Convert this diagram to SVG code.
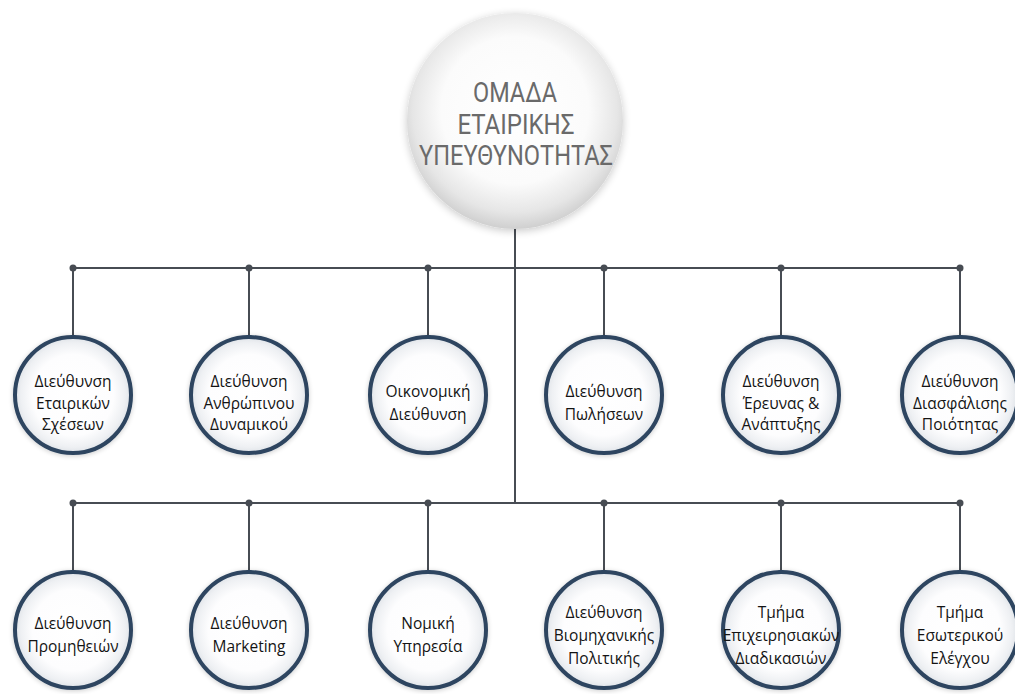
<svg xmlns="http://www.w3.org/2000/svg" width="1015" height="694" viewBox="0 0 1015 694">
  <defs>
    <radialGradient id="topFill" cx="50%" cy="45%" r="55%">
      <stop offset="0" stop-color="#ffffff"/>
      <stop offset="0.62" stop-color="#fbfbfb"/>
      <stop offset="0.86" stop-color="#e6e6e6"/>
      <stop offset="1" stop-color="#cfcfcf"/>
    </radialGradient>
    <radialGradient id="unitFill" cx="50%" cy="50%" r="50%">
      <stop offset="0" stop-color="#ffffff"/>
      <stop offset="0.7" stop-color="#fdfdfe"/>
      <stop offset="0.9" stop-color="#eef0f3"/>
      <stop offset="1" stop-color="#dfe3e8"/>
    </radialGradient>
    <filter id="softShadow" x="-20%" y="-20%" width="140%" height="140%">
      <feGaussianBlur in="SourceAlpha" stdDeviation="4"/>
      <feOffset dy="2"/>
      <feComponentTransfer><feFuncA type="linear" slope="0.22"/></feComponentTransfer>
      <feMerge><feMergeNode/><feMergeNode in="SourceGraphic"/></feMerge>
    </filter>
    <filter id="unitShadow" x="-20%" y="-20%" width="140%" height="140%">
      <feGaussianBlur in="SourceAlpha" stdDeviation="2.5"/>
      <feOffset dy="1"/>
      <feComponentTransfer><feFuncA type="linear" slope="0.2"/></feComponentTransfer>
      <feMerge><feMergeNode/><feMergeNode in="SourceGraphic"/></feMerge>
    </filter>
  </defs>
  <style>
    .wire { stroke: #474c53; stroke-width: 2; fill: none; }
    .dot { fill: #474c53; }
    .unit { fill: url(#unitFill); stroke: #2d4560; stroke-width: 4; filter: url(#unitShadow); }
    .tab { fill: #2d4560; }
    .label { font-family: "Open Sans", "Noto Sans", sans-serif; font-size: 15.5px; fill: #141414; text-anchor: middle; }
    .title { font-family: Roboto, "Liberation Sans", sans-serif; font-size: 27px; fill: #6a6a6a; text-anchor: middle; }
  </style>

  <rect width="1015" height="694" fill="#ffffff"/>

  <!-- connectors -->
  <g id="connectors">
    <line class="wire" x1="515" y1="228" x2="515" y2="503"/>
    <line class="wire" x1="73" y1="268" x2="960" y2="268"/>
    <line class="wire" x1="73" y1="503" x2="960" y2="503"/>
    <g>
      <line class="wire" x1="73" y1="268" x2="73" y2="336"/>
      <line class="wire" x1="249" y1="268" x2="249" y2="336"/>
      <line class="wire" x1="428" y1="268" x2="428" y2="336"/>
      <line class="wire" x1="604" y1="268" x2="604" y2="336"/>
      <line class="wire" x1="781" y1="268" x2="781" y2="336"/>
      <line class="wire" x1="960" y1="268" x2="960" y2="336"/>
      <line class="wire" x1="73" y1="503" x2="73" y2="571"/>
      <line class="wire" x1="249" y1="503" x2="249" y2="571"/>
      <line class="wire" x1="428" y1="503" x2="428" y2="571"/>
      <line class="wire" x1="604" y1="503" x2="604" y2="571"/>
      <line class="wire" x1="781" y1="503" x2="781" y2="571"/>
      <line class="wire" x1="960" y1="503" x2="960" y2="571"/>
    </g>
    <g>
      <circle class="dot" cx="73" cy="268" r="3.5"/>
      <circle class="dot" cx="249" cy="268" r="3.5"/>
      <circle class="dot" cx="428" cy="268" r="3.5"/>
      <circle class="dot" cx="604" cy="268" r="3.5"/>
      <circle class="dot" cx="781" cy="268" r="3.5"/>
      <circle class="dot" cx="960" cy="268" r="3.5"/>
      <circle class="dot" cx="73" cy="503" r="3.5"/>
      <circle class="dot" cx="249" cy="503" r="3.5"/>
      <circle class="dot" cx="428" cy="503" r="3.5"/>
      <circle class="dot" cx="604" cy="503" r="3.5"/>
      <circle class="dot" cx="781" cy="503" r="3.5"/>
      <circle class="dot" cx="960" cy="503" r="3.5"/>
    </g>
  </g>

  <!-- top node -->
  <g id="team">
    <circle cx="515" cy="121" r="108" fill="url(#topFill)" filter="url(#softShadow)"/>
    <text class="title" x="515" y="102" textLength="84" lengthAdjust="spacingAndGlyphs">ΟΜΑΔΑ</text>
    <text class="title" x="516" y="134" textLength="117" lengthAdjust="spacingAndGlyphs">ΕΤΑΙΡΙΚΗΣ</text>
    <text class="title" x="516" y="165" textLength="194" lengthAdjust="spacingAndGlyphs">ΥΠΕΥΘΥΝΟΤΗΤΑΣ</text>
  </g>

  <!-- first row -->
  <g id="corporate-relations">
    <circle class="unit" cx="73" cy="395" r="58"/>
    <path class="tab" d="M66,339 Q73,331 80,339 Z"/>
    <text class="label" x="73" y="387">Διεύθυνση</text>
    <text class="label" x="73" y="409">Εταιρικών</text>
    <text class="label" x="73" y="430">Σχέσεων</text>
  </g>
  <g id="human-resources">
    <circle class="unit" cx="249" cy="395" r="58"/>
    <path class="tab" d="M242,339 Q249,331 256,339 Z"/>
    <text class="label" x="249" y="387">Διεύθυνση</text>
    <text class="label" x="249" y="409">Ανθρώπινου</text>
    <text class="label" x="249" y="430">Δυναμικού</text>
  </g>
  <g id="finance">
    <circle class="unit" cx="428" cy="395" r="58"/>
    <path class="tab" d="M421,339 Q428,331 435,339 Z"/>
    <text class="label" x="428" y="397">Οικονομική</text>
    <text class="label" x="428" y="420">Διεύθυνση</text>
  </g>
  <g id="sales">
    <circle class="unit" cx="604" cy="395" r="58"/>
    <path class="tab" d="M597,339 Q604,331 611,339 Z"/>
    <text class="label" x="604" y="397">Διεύθυνση</text>
    <text class="label" x="604" y="420">Πωλήσεων</text>
  </g>
  <g id="research-development">
    <circle class="unit" cx="781" cy="395" r="58"/>
    <path class="tab" d="M774,339 Q781,331 788,339 Z"/>
    <text class="label" x="781" y="387">Διεύθυνση</text>
    <text class="label" x="781" y="409">Έρευνας &amp;</text>
    <text class="label" x="781" y="430">Ανάπτυξης</text>
  </g>
  <g id="quality-assurance">
    <circle class="unit" cx="960" cy="395" r="58"/>
    <path class="tab" d="M953,339 Q960,331 967,339 Z"/>
    <text class="label" x="960" y="387">Διεύθυνση</text>
    <text class="label" x="960" y="409">Διασφάλισης</text>
    <text class="label" x="960" y="430">Ποιότητας</text>
  </g>

  <!-- second row -->
  <g id="procurement">
    <circle class="unit" cx="73" cy="630" r="58"/>
    <path class="tab" d="M66,574 Q73,566 80,574 Z"/>
    <text class="label" x="73" y="629">Διεύθυνση</text>
    <text class="label" x="73" y="652">Προμηθειών</text>
  </g>
  <g id="marketing">
    <circle class="unit" cx="249" cy="630" r="58"/>
    <path class="tab" d="M242,574 Q249,566 256,574 Z"/>
    <text class="label" x="249" y="629">Διεύθυνση</text>
    <text class="label" x="249" y="652">Marketing</text>
  </g>
  <g id="legal">
    <circle class="unit" cx="428" cy="630" r="58"/>
    <path class="tab" d="M421,574 Q428,566 435,574 Z"/>
    <text class="label" x="428" y="629">Νομική</text>
    <text class="label" x="428" y="652">Υπηρεσία</text>
  </g>
  <g id="industrial-policy">
    <circle class="unit" cx="604" cy="630" r="58"/>
    <path class="tab" d="M597,574 Q604,566 611,574 Z"/>
    <text class="label" x="604" y="618">Διεύθυνση</text>
    <text class="label" x="604" y="641">Βιομηχανικής</text>
    <text class="label" x="604" y="664">Πολιτικής</text>
  </g>
  <g id="business-processes">
    <circle class="unit" cx="781" cy="630" r="58"/>
    <path class="tab" d="M774,574 Q781,566 788,574 Z"/>
    <text class="label" x="781" y="618">Τμήμα</text>
    <text class="label" x="781" y="641">Επιχειρησιακών</text>
    <text class="label" x="781" y="664">Διαδικασιών</text>
  </g>
  <g id="internal-audit">
    <circle class="unit" cx="960" cy="630" r="58"/>
    <path class="tab" d="M953,574 Q960,566 967,574 Z"/>
    <text class="label" x="960" y="618">Τμήμα</text>
    <text class="label" x="960" y="641">Εσωτερικού</text>
    <text class="label" x="960" y="664">Ελέγχου</text>
  </g>
</svg>
